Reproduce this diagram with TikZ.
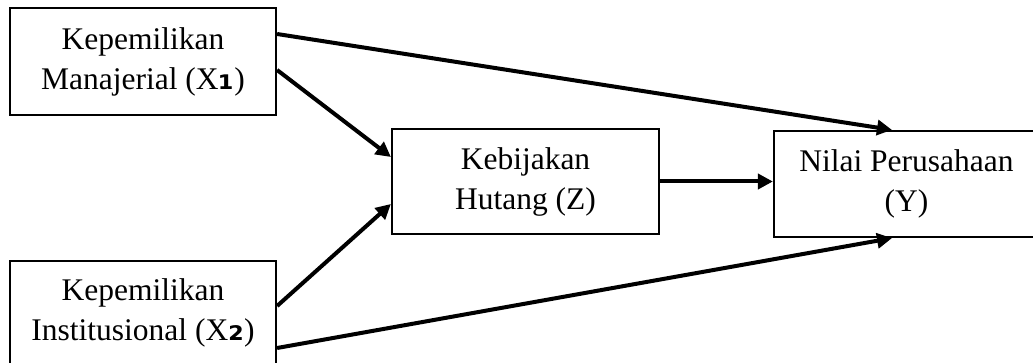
\documentclass[tikz,border=0pt]{standalone}
\usepackage{fontspec}
\setmainfont{Liberation Serif}
\newfontfamily\subfont{DejaVu Sans}
\newcommand{\subdigit}[1]{{\subfont\bfseries\fontsize{36}{40}\selectfont #1}}
\usetikzlibrary{arrows.meta}
\begin{document}
\begin{tikzpicture}[x=1pt,y=-1pt,
  box/.style={draw, line width=2.2pt, align=center, inner sep=0pt,
    font=\fontsize{31.5}{40}\selectfont},
  link/.style={line width=4pt, -{Triangle[length=15pt,width=15pt]}}]
\useasboundingbox (0,0) rectangle (1033,363);
\clip (0,0) rectangle (1033,363);

% variables
\node[box, minimum width=266pt, minimum height=107pt] (x1) at (143,61.5)
  {Kepemilikan\\Manajerial (X\subdigit{₁})};
\node[box, minimum width=266pt, minimum height=104pt] (x2) at (143,313)
  {Kepemilikan\\Institusional (X\subdigit{₂})};
\node[box, minimum width=267pt, minimum height=105pt] (z) at (525.5,181.5)
  {Kebijakan\\Hutang (Z)};
\node[box, minimum width=265pt, minimum height=106pt] (y) at (906.5,184)
  {Nilai Perusahaan\\(Y)};

% paths
\draw[link] ([yshift=27.5pt]x1.east) -- ([xshift=-14.5pt]y.north);
\draw[link] ([yshift=-8.5pt]x1.east) -- ([yshift=24.5pt]z.west);
\draw[link] ([yshift=7pt]x2.east) -- ([yshift=-22.5pt]z.west);
\draw[link] ([yshift=-35pt]x2.east) -- ([xshift=-14.5pt]y.south);
\draw[link] (z.east) -- (z.east -| y.west);
\end{tikzpicture}
\end{document}
